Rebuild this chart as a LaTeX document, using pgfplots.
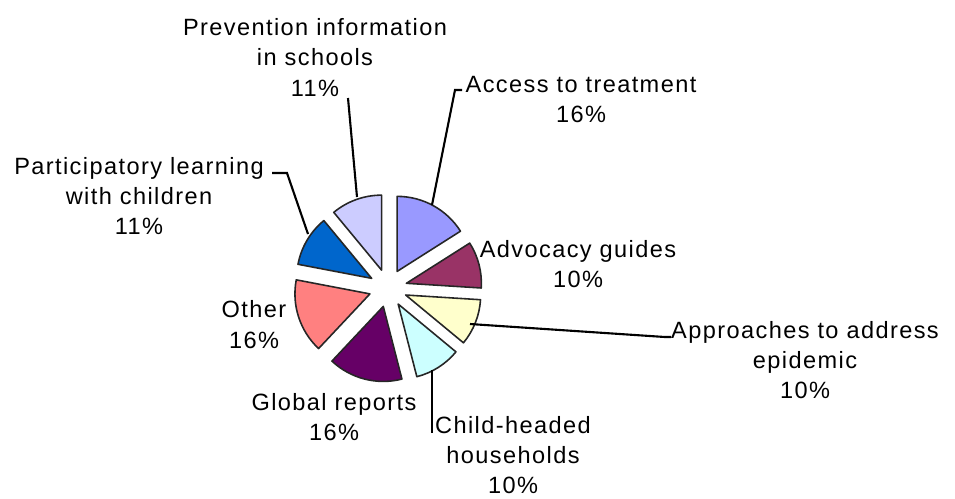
\documentclass[border=0pt]{standalone}
\usepackage{pgfplots}
\usepackage{pgfplotstable}
\pgfplotsset{compat=1.18}
\usepackage{fontspec}
\setmainfont{Liberation Sans}[LetterSpace=6]
\definecolor{c1}{HTML}{9999FF}
\definecolor{c2}{HTML}{993366}
\definecolor{c3}{HTML}{FFFFCC}
\definecolor{c4}{HTML}{CCFFFF}
\definecolor{c5}{HTML}{660066}
\definecolor{c6}{HTML}{FF8080}
\definecolor{c7}{HTML}{0066CC}
\definecolor{c8}{HTML}{CCCCFF}

% share of each category (percent), clockwise from 12 o'clock
\pgfplotstableread{
value colour
16 c1
10 c2
10 c3
10 c4
16 c5
16 c6
11 c7
11 c8
}\piedata

\begin{document}
\begin{tikzpicture}[lbl/.style={anchor=base,inner sep=0pt,font=\fontsize{6.7}{8.8}\selectfont}]
\path[use as bounding box] (0,0) rectangle (9.55cm,4.98cm);
\begin{axis}[hide axis, scale only axis, width=9.55cm, height=4.98cm,
  xmin=0, xmax=955, ymin=0, ymax=498, y dir=reverse,
  at={(0,0)}, anchor=south west, clip=false]
\def\pcx{388}\def\pcy{288}\def\pex{19}\def\prad{0.75cm}
\def\astart{90}
\pgfplotstablegetrowsof{\piedata}
\pgfmathtruncatemacro\pN{\pgfplotsretval-1}
\pgfplotsforeachungrouped \i in {0,...,\pN}{%
  \pgfplotstablegetelem{\i}{value}\of\piedata \let\pval=\pgfplotsretval
  \pgfplotstablegetelem{\i}{colour}\of\piedata \let\pcol=\pgfplotsretval
  \pgfmathsetmacro\aend{\astart-3.6*\pval}%
  \pgfmathsetmacro\amid{(\astart+\aend)/2}%
  \pgfmathsetmacro\ox{\pcx+\pex*cos(\amid)}%
  \pgfmathsetmacro\oy{\pcy-\pex*sin(\amid)}%
  \edef\temp{\noexpand\filldraw[fill=\pcol, draw=black!85, line width=0.45pt, line join=round] (axis cs:\ox,\oy) -- ++(\astart:\prad) arc[start angle=\astart, end angle=\aend, radius=\prad] -- cycle;}%
  \temp
  \let\astart\aend
}
% leader lines
\draw[line width=0.6pt] (axis cs:348,98) -- (axis cs:357,197);
\draw[line width=0.6pt] (axis cs:272,173) -- (axis cs:287,173) -- (axis cs:308,234);
\draw[line width=0.6pt] (axis cs:462,90) -- (axis cs:455,90) -- (axis cs:432,205);
\draw[line width=0.6pt] (axis cs:470,324) -- (axis cs:665,337) -- (axis cs:671,337);
\draw[line width=0.6pt] (axis cs:432,370) -- (axis cs:432,433);
% labels
\node[lbl] at (axis cs:315,35) {Prevention information};
\node[lbl] at (axis cs:315,65) {in schools};
\node[lbl] at (axis cs:315,96) {11\%};
\node[lbl] at (axis cs:139,174) {Participatory learning};
\node[lbl] at (axis cs:139,204) {with children};
\node[lbl] at (axis cs:139,234) {11\%};
\node[lbl] at (axis cs:581,92) {Access to treatment};
\node[lbl] at (axis cs:581,122) {16\%};
\node[lbl] at (axis cs:578,257) {Advocacy guides};
\node[lbl] at (axis cs:578,287) {10\%};
\node[lbl] at (axis cs:805,338) {Approaches to address};
\node[lbl] at (axis cs:805,368) {epidemic};
\node[lbl] at (axis cs:805,398) {10\%};
\node[lbl] at (axis cs:513,433) {Child-headed};
\node[lbl] at (axis cs:513,463) {households};
\node[lbl] at (axis cs:513,493) {10\%};
\node[lbl] at (axis cs:254,317) {Other};
\node[lbl] at (axis cs:254,348) {16\%};
\node[lbl] at (axis cs:334,410) {Global reports};
\node[lbl] at (axis cs:334,440) {16\%};
\end{axis}
\end{tikzpicture}
\end{document}
